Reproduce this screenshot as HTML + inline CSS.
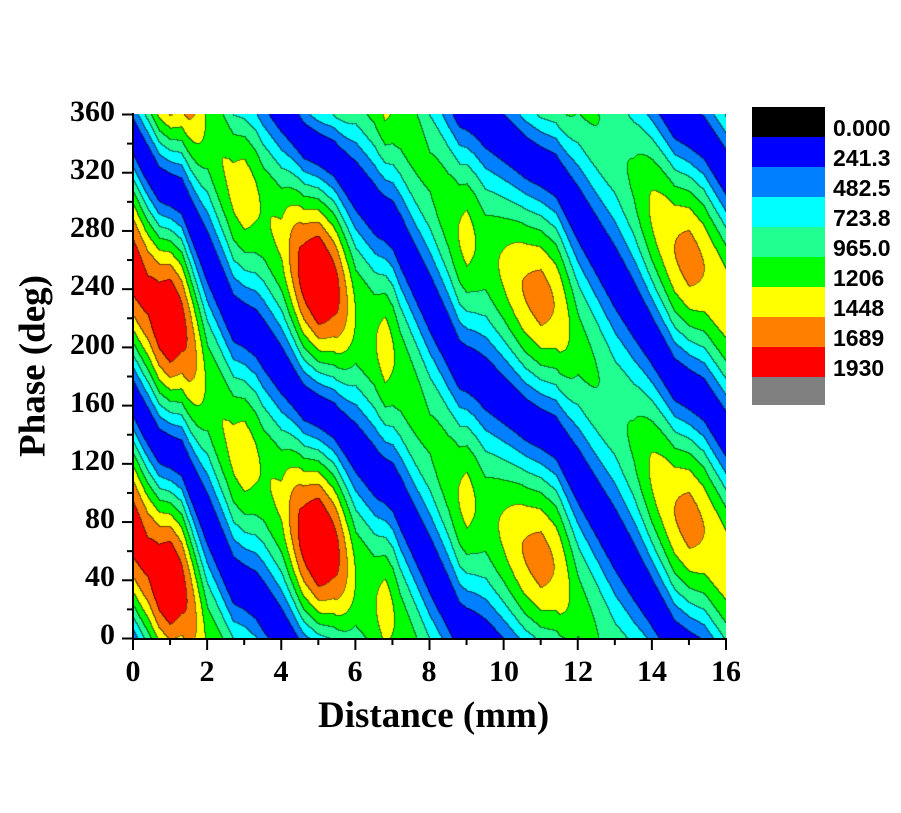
<!DOCTYPE html>
<html><head><meta charset="utf-8"><style>
body{margin:0;background:#fff;width:901px;height:813px;position:relative;overflow:hidden;font-family:"Liberation Serif",serif}
canvas{position:absolute;left:133px;top:114px}
.yl{position:absolute;font-weight:bold;font-size:30px;text-align:right;width:70px;left:45px}
.xl{position:absolute;font-weight:bold;font-size:30px;text-align:center;width:60px;top:655px}
.lg{position:absolute;left:833px;font-family:"Liberation Sans",sans-serif;font-weight:bold;font-size:23px}
.sw{position:absolute;left:752px;width:73px;height:30px}
</style></head><body>
<canvas id="c" width="593" height="524"></canvas>
<svg width="901" height="813" style="position:absolute;left:0;top:0">
<g stroke="#000" stroke-width="2" fill="none">
<line x1="133" y1="113" x2="133" y2="639"/><line x1="132" y1="639" x2="727" y2="639"/>
</g>
<g id="ticks" stroke="#000" stroke-width="2"></g>
</svg>
<div class="yl" style="top:95px">360</div><div class="yl" style="top:153px">320</div><div class="yl" style="top:211px">280</div><div class="yl" style="top:269px">240</div><div class="yl" style="top:328px">200</div><div class="yl" style="top:386px">160</div><div class="yl" style="top:444px">120</div><div class="yl" style="top:502px">80</div><div class="yl" style="top:560px">40</div><div class="yl" style="top:618px">0</div>
<div class="xl" style="left:103px">0</div><div class="xl" style="left:177px">2</div><div class="xl" style="left:251px">4</div><div class="xl" style="left:325px">6</div><div class="xl" style="left:399px">8</div><div class="xl" style="left:474px">10</div><div class="xl" style="left:548px">12</div><div class="xl" style="left:622px">14</div><div class="xl" style="left:696px">16</div>
<div style="position:absolute;left:318px;top:694px;font-weight:bold;font-size:37px">Distance (mm)</div>
<div style="position:absolute;left:33px;top:366px;font-weight:bold;font-size:37px;transform:translate(-50%,-50%) rotate(-90deg);white-space:nowrap">Phase (deg)</div>
<div class="sw" style="top:107px;background:#000"></div>
<div class="sw" style="top:137px;background:#0000ff"></div>
<div class="sw" style="top:167px;background:#0080ff"></div>
<div class="sw" style="top:197px;background:#00ffff"></div>
<div class="sw" style="top:227px;background:#20ff90"></div>
<div class="sw" style="top:257px;background:#00ff00"></div>
<div class="sw" style="top:287px;background:#ffff00"></div>
<div class="sw" style="top:317px;background:#ff8000"></div>
<div class="sw" style="top:347px;background:#ff0000"></div>
<div class="sw" style="top:377px;background:#808080;height:28px"></div>
<div class="lg" style="top:115px">0.000</div><div class="lg" style="top:145px">241.3</div><div class="lg" style="top:175px">482.5</div><div class="lg" style="top:205px">723.8</div><div class="lg" style="top:235px">965.0</div><div class="lg" style="top:265px">1206</div><div class="lg" style="top:295px">1448</div><div class="lg" style="top:325px">1689</div><div class="lg" style="top:355px">1930</div>
<script>
(function(){
var t=document.getElementById('ticks'),s='';
for(var i=0;i<=18;i++){var y=638.5-i*524/18;var L=(i%2==0)?11:6;s+='<line x1="'+(133-L)+'" y1="'+y+'" x2="133" y2="'+y+'"/>';}
for(var i=0;i<=16;i++){var x=133+i*593/16;var L=(i%2==0)?11:6;s+='<line x1="'+x+'" y1="639" x2="'+x+'" y2="'+(639+L)+'"/>';}
t.innerHTML=s;
var P=[[-0.5,95],[0,75],[0.3,60],[0.7,42],[1.3,34],[2.7,-50],[3.3,-60],[4.6,-108],[5.4,-120],[6.6,-158],[7.0,-166],[8.8,-262],[9.2,-268],[10.6,-300],[11.4,-312],[14.6,-452],[15.4,-466],[16.5,-510]];
var A=[[0,1820],[0.4,1750],[1,2000],[1.5,1650],[2,1150],[2.5,1220],[3,1360],[3.5,1180],[4,1250],[4.5,1750],[5,2050],[5.5,1750],[6,1200],[6.5,1180],[6.8,1340],[7.2,1120],[8,1000],[8.5,1100],[9,1300],[9.5,1100],[10,1250],[10.5,1450],[11,1560],[11.5,1400],[12,1050],[13,900],[13.5,1000],[14,1250],[14.5,1420],[15,1560],[15.5,1420],[16,1350]];
function interp(T,x){if(x<=T[0][0])return T[0][1];for(var i=1;i<T.length;i++){if(x<=T[i][0]){var a=T[i-1],b=T[i];return a[1]+(b[1]-a[1])*(x-a[0])/(b[0]-a[0]);}}return T[T.length-1][1];}
var lv=[241.3,482.5,723.8,965,1206,1448,1689];
var col=[[0,0,255],[0,128,255],[0,255,255],[32,255,144],[0,255,0],[255,255,0],[255,128,0],[255,0,0]];
var W=593,H=524,c=document.getElementById('c'),ctx=c.getContext('2d'),im=ctx.createImageData(W,H),d=im.data;
var Q=new Int8Array(W*H);
for(var px=0;px<W;px++){var x=(px+0.5)/W*16;var p0=interp(P,x),a=interp(A,x);
 for(var py=0;py<H;py++){var p=(H-py-0.5)/H*360;var v=a*Math.pow(Math.abs(Math.cos(Math.PI*(p-p0)/180)),1.3);
  var k=0;while(k<7&&v>lv[k])k++;Q[py*W+px]=k;}}
for(var py=0;py<H;py++)for(var px=0;px<W;px++){var i=py*W+px,k=Q[i],cc=col[k];
 var edge=(px>0&&Q[i-1]!=k)||(py>0&&Q[i-W]!=k);
 var o=i*4;if(edge){d[o]=cc[0]*0.45;d[o+1]=cc[1]*0.45;d[o+2]=cc[2]*0.45;}else{d[o]=cc[0];d[o+1]=cc[1];d[o+2]=cc[2];}d[o+3]=255;}
ctx.putImageData(im,0,0);
})();
</script>
</body></html>
